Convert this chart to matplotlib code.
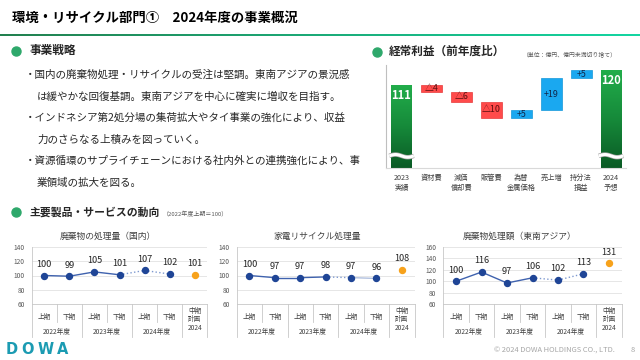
import matplotlib
matplotlib.use("Agg")
import matplotlib.pyplot as plt
import numpy as np
from matplotlib.colors import LinearSegmentedColormap
from matplotlib.lines import Line2D

plt.rcParams['font.family'] = ['Noto Sans CJK JP', 'DejaVu Sans']

# ---------------------------------------------------------------------------
# Data
# ---------------------------------------------------------------------------
TITLE = "環境・リサイクル部門①　2024年度の事業概況"

STRATEGY_LINES = [
    "・国内の廃棄物処理・リサイクルの受注は堅調。東南アジアの景況感",
    "は緩やかな回復基調。東南アジアを中心に確実に増収を目指す。",
    "・インドネシア第2処分場の集荷拡大やタイ事業の強化により、収益",
    "力のさらなる上積みを図っていく。",
    "・資源循環のサプライチェーンにおける社内外との連携強化により、事",
    "業領域の拡大を図る。",
]

wf_labels = ['2023\n実績', '資材費', '減価\n償却費', '販管費',
             '為替\n金属価格', '売上増', '持分法\n損益', '2024\n予想']
wf_start = 111
wf_changes = [-4, -6, -10, 5, 19, 5]
wf_end = 120

periods = ['上期', '下期'] * 3
years = ['2022年度', '2023年度', '2024年度']
plan_label = '中期\n計画\n2024'

domestic_waste = [100, 99, 105, 101, 107, 102]
domestic_plan = 101
appliance = [100, 97, 97, 98, 97, 96]
appliance_plan = 108
sea_waste = [100, 116, 97, 106, 102, 113]
sea_plan = 131

# ---------------------------------------------------------------------------
# Styling
# ---------------------------------------------------------------------------
W, H = 640, 360
DOT_GREEN = "#2EA86B"
TEXT = "#262626"
GRAY = "#595959"
LINE_GRAY = "#C8C8C8"
NAVY = "#1F4596"
LINE_BLUE = "#3F62AE"
ORANGE = "#F7A21B"
RED = "#FF4B4B"
BLUE = "#1AA8F0"

fig = plt.figure(figsize=(6.4, 3.6), dpi=100)
fig.patch.set_facecolor("white")


def px_axes(x0, y0, x1, y1):
    return fig.add_axes([x0 / W, 1 - y1 / H, (x1 - x0) / W, (y1 - y0) / H])


def ftext(x, y, s, **kw):
    kw.setdefault("va", "center")
    fig.text(x / W, 1 - y / H, s, **kw)


def header_dot(x, y):
    fig.add_artist(Line2D([x / W], [1 - y / H], marker="o", ms=6.5,
                          color=DOT_GREEN, transform=fig.transFigure))


# --- title + gradient rule ---
ftext(12, 18, TITLE, fontsize=9.6, fontweight="bold", color="black")
rule = px_axes(0, 34, 640, 36.5)
rule.imshow(np.linspace(0, 1, 256)[None, :], aspect="auto",
            cmap=LinearSegmentedColormap.from_list("r", ["#23804F", "#14D6A2"]))
rule.axis("off")

# --- strategy text ---
header_dot(16, 51)
ftext(30, 50, "事業戦略", fontsize=8.4, fontweight="bold", color=TEXT)
line_y = [75, 97, 118, 140, 161, 183]
for s, y in zip(STRATEGY_LINES, line_y):
    x = 25 if s.startswith("・") else 37
    ftext(x, y, s, fontsize=7.6, color=TEXT)

# --- waterfall ---
header_dot(377, 52)
ftext(389, 51, "経常利益（前年度比）", fontsize=8.4, fontweight="bold", color=TEXT)
ftext(523, 54, "（単位：億円、億円未満切り捨て）", fontsize=4.2, color=GRAY)

ax = px_axes(385.7, 65, 626, 168)
levels = np.concatenate([[wf_start], wf_start + np.cumsum(wf_changes)])
y_lo, y_hi = 61, 123
bw = 0.7

green_cmap = LinearSegmentedColormap.from_list("g", ["#0A5A25", "#168A3A", "#22AE4B"])
for xi, val in [(0, wf_start), (len(wf_labels) - 1, wf_end)]:
    bar = ax.bar(xi, val, width=bw, color="#1A9A45", zorder=2)[0]
    im = ax.imshow(np.linspace(0, 1, 256)[:, None], origin="lower", aspect="auto",
                   cmap=green_cmap, extent=(xi - bw / 2, xi + bw / 2, y_lo, val),
                   zorder=2.5)
    im.set_clip_path(bar)
    ax.text(xi, val - 6.5, str(val), ha="center", va="center", color="white",
            fontsize=8, fontweight="bold", zorder=4)
    # axis break mark
    wx = np.linspace(xi - bw / 2 - 0.06, xi + bw / 2 + 0.06, 60)
    wy = 68.3 + 0.8 * np.sin(np.linspace(0, 2 * np.pi, 60))
    ax.plot(wx, wy, color="#A0A0A0", lw=3.2, zorder=3, solid_capstyle="butt")
    ax.plot(wx, wy, color="white", lw=2.2, zorder=3.1, solid_capstyle="butt")

for i, d in enumerate(wf_changes):
    xi = i + 1
    lo = min(levels[i], levels[i + 1])
    neg = d < 0
    ax.bar(xi, abs(d), bottom=lo, width=bw, color=RED if neg else BLUE,
           edgecolor="#E63B3B" if neg else "#1497DA", lw=0.5, zorder=2)
    lab = f"△{abs(d)}" if neg else f"+{d}"
    ax.text(xi, lo + abs(d) / 2, lab, ha="center", va="center", fontsize=6.4,
            color="#5A0F0F" if neg else "#10264A", zorder=4)

ax.set_xlim(-0.53, len(wf_labels) - 0.5)
ax.set_ylim(y_lo, y_hi)
ax.set_yticks([])
ax.set_xticks(np.arange(len(wf_labels)))
ax.set_xticklabels(wf_labels, fontsize=5.2, color="#404040", linespacing=1.35)
ax.tick_params(axis="x", length=0, pad=4)
for sp in ("top", "right"):
    ax.spines[sp].set_visible(False)
ax.spines["left"].set_color("#BFBFBF")
ax.spines["bottom"].set_color("#D9D9D9")
ax.spines["left"].set_linewidth(0.8)
ax.spines["bottom"].set_linewidth(0.8)

# --- trend charts ---
header_dot(16, 212)
ftext(30, 212, "主要製品・サービスの動向", fontsize=7.8, fontweight="bold", color=TEXT)
ftext(163, 214, "（2022年度上期＝100）", fontsize=4.3, color=GRAY)


def trend_chart(x0, x1, title, title_x, values, plan, ylim, yticks, styles):
    top, bottom, table_bot, row_bot = 246.7, 304.3, 337.0, 322.0
    ax = px_axes(x0, top, x1, bottom)
    hpx = bottom - top

    def fy(ypx):
        return (bottom - ypx) / hpx

    xs = np.arange(len(values))
    for i in range(len(values) - 1):
        ls, col, lw = styles[i]
        ax.plot(xs[i:i + 2], values[i:i + 2], ls=ls, color=col, lw=lw, zorder=2)
    ax.plot(xs, values, "o", color=NAVY, ms=4.3, zorder=3)
    ax.plot([len(values)], [plan], "o", color=ORANGE, ms=4.3, zorder=3)
    for xi, v in list(zip(xs, values)) + [(len(values), plan)]:
        ax.annotate(str(v), (xi, v), xytext=(0, 8), textcoords="offset points",
                    ha="center", va="center", fontsize=6.6, color="#262626")

    ax.set_xlim(-0.5, 6.5)
    ax.set_ylim(*ylim)
    ax.set_yticks(yticks)
    ax.set_yticklabels([str(t) for t in yticks], fontsize=4.8, color=GRAY)
    ax.tick_params(axis="y", length=0, pad=5)
    ax.set_xticks([])
    ax.grid(axis="y", color="#E2E2E2", lw=0.6)
    ax.set_axisbelow(True)
    for sp in ("top", "right", "bottom"):
        ax.spines[sp].set_visible(False)
    ax.spines["left"].set_color(LINE_GRAY)
    ax.spines["left"].set_linewidth(0.6)

    tr = ax.get_xaxis_transform()
    kw = dict(transform=tr, clip_on=False, color=LINE_GRAY, lw=0.6)
    ax.plot([-0.5, 6.5], [0, 0], **kw)
    ax.plot([-0.5, -0.5], [0, fy(table_bot)], **kw)
    for b in [1.5, 3.5, 5.5, 6.5]:
        ax.plot([b, b], [0, fy(table_bot)], **kw)
    for b in [0.5, 2.5, 4.5]:
        ax.plot([b, b], [0, fy(row_bot)], **kw)
    for i, p in enumerate(periods):
        ax.text(i, fy(316.7), p, transform=tr, ha="center", va="center",
                fontsize=4.8, color="#404040")
    for j, yr in enumerate(years):
        ax.text(2 * j + 0.5, fy(331.7), yr, transform=tr, ha="center",
                va="center", fontsize=4.8, color="#404040")
    ax.text(6, fy(319.5), plan_label, transform=tr, ha="center", va="center",
            fontsize=4.8, color="#404040", linespacing=1.05)
    ftext(title_x, 236, title, fontsize=6.3, color="#404040", ha="center")


SOLID = ("-", LINE_BLUE, 1.0)
DOTTED = (":", "#7F9AD0", 1.0)
LIGHT = ("-", "#9DB0D6", 0.8)

trend_chart(31.7, 207.3, "廃棄物の処理量（国内）", 108, domestic_waste, domestic_plan,
            (60, 140), [60, 80, 100, 120, 140], [SOLID, SOLID, SOLID, DOTTED, DOTTED])
trend_chart(236.7, 414.5, "家電リサイクル処理量", 317, appliance, appliance_plan,
            (60, 140), [60, 80, 100, 120, 140], [SOLID, SOLID, SOLID, DOTTED, LIGHT])
trend_chart(443.3, 621.7, "廃棄物処理額（東南アジア）", 520, sea_waste, sea_plan,
            (60, 160), [60, 80, 100, 120, 140, 160], [SOLID, SOLID, SOLID, DOTTED, DOTTED])

# --- footer ---
for ch, x in zip("DOWA", [11.5, 28, 46, 62.5]):
    ftext(x, 349.5, ch, fontsize=10.5, fontweight="bold", color="#1B9BB2",
          ha="center", family="DejaVu Sans")
ftext(494, 350.5, "© 2024 DOWA HOLDINGS CO., LTD.", fontsize=5.4, color="#A6A6A6")
ftext(632.5, 350.5, "8", fontsize=5.4, color="#A6A6A6", ha="center")

fig.savefig("out.png", dpi=100, facecolor="white")
